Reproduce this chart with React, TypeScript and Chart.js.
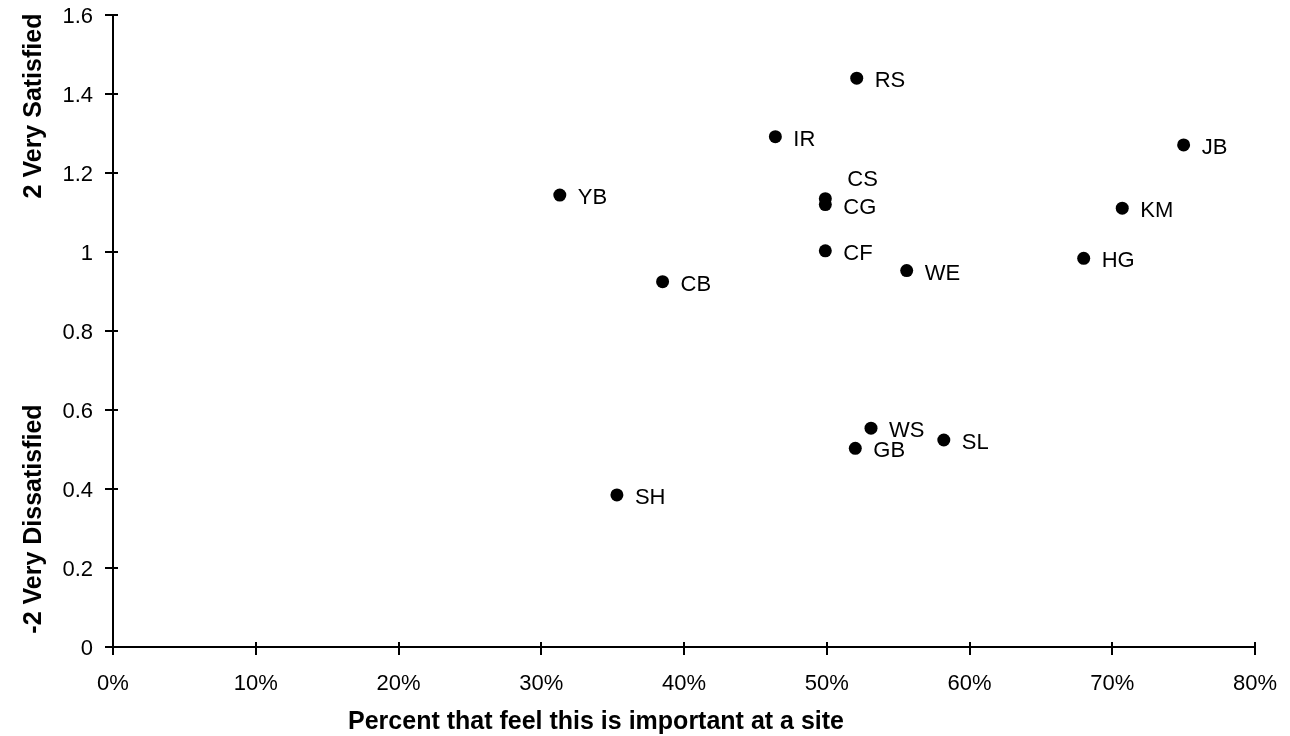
import React, { useEffect, useRef } from "react";
import { Chart, registerables } from "chart.js";

Chart.register(...registerables);

const siteCodes = ["RS", "IR", "JB", "YB", "CS", "CG", "KM", "CF", "HG", "WE", "CB", "WS", "SL", "GB", "SH"];
const importancePct = [52.1, 46.4, 75.0, 31.3, 49.9, 49.9, 70.7, 49.9, 68.0, 55.6, 38.5, 53.1, 58.2, 52.0, 35.3];
const satisfaction = [1.44, 1.292, 1.271, 1.144, 1.135, 1.12, 1.111, 1.003, 0.984, 0.953, 0.925, 0.554, 0.524, 0.503, 0.385];

const xTickValues = [0, 10, 20, 30, 40, 50, 60, 70, 80];
const yTickValues = [0, 0.2, 0.4, 0.6, 0.8, 1, 1.2, 1.4, 1.6];

const xTitle = "Percent that feel this is important at a site";
const yTitleTop = "2 Very Satisfied";
const yTitleBottom = "-2 Very Dissatisfied";

const FONT = "'Liberation Sans', Arial, Helvetica, sans-serif";
const defaultLabelShift = [18, 3];
const labelShift: Record<string, number[]> = { CS: [22, -19] };

export default function App() {
  const ref = useRef<HTMLCanvasElement>(null);

  useEffect(() => {
    const canvas = ref.current;
    if (!canvas) return;

    const extras = {
      id: "extras",
      afterDraw(chart: any) {
        const ctx = chart.ctx as CanvasRenderingContext2D;
        const xs = chart.scales.x;
        const ys = chart.scales.y;
        const area = chart.chartArea;
        ctx.save();
        // inner halves of the crossing tick marks
        ctx.strokeStyle = "#000";
        ctx.lineWidth = 2;
        ctx.beginPath();
        ys.ticks.forEach((t: any) => {
          const py = Math.round(ys.getPixelForValue(t.value));
          ctx.moveTo(area.left, py);
          ctx.lineTo(area.left + 5, py);
        });
        xs.ticks.forEach((t: any) => {
          const px = Math.round(xs.getPixelForValue(t.value));
          ctx.moveTo(px, area.bottom);
          ctx.lineTo(px, area.bottom - 5);
        });
        ctx.stroke();

        // point labels
        ctx.font = `22px ${FONT}`;
        ctx.fillStyle = "#000";
        ctx.textAlign = "left";
        ctx.textBaseline = "middle";
        const meta = chart.getDatasetMeta(0);
        meta.data.forEach((el: any, i: number) => {
          const code = siteCodes[i];
          const [dx, dy] = labelShift[code] || defaultLabelShift;
          ctx.fillText(code, el.x + dx, el.y + dy);
        });

        // axis titles
        ctx.font = `bold 25px ${FONT}`;
        ctx.textAlign = "center";
        ctx.textBaseline = "alphabetic";
        ctx.fillText(xTitle, 596, 729);

        ctx.save();
        ctx.translate(41, 106);
        ctx.rotate(-Math.PI / 2);
        ctx.fillText(yTitleTop, 0, 0);
        ctx.restore();

        ctx.save();
        ctx.translate(41, 519);
        ctx.rotate(-Math.PI / 2);
        ctx.fillText(yTitleBottom, 0, 0);
        ctx.restore();

        ctx.restore();
      },
    };

    const chart = new Chart(canvas, {
      type: "scatter",
      data: {
        datasets: [
          {
            data: importancePct.map((x, i) => ({ x, y: satisfaction[i] })),
            backgroundColor: "#000",
            borderColor: "#000",
            borderWidth: 0,
            pointRadius: 6.5,
            pointHoverRadius: 6.5,
          },
        ],
      },
      options: {
        animation: false,
        responsive: false,
        devicePixelRatio: 1,
        layout: { padding: { top: 15, right: 35, left: 0, bottom: 0 } },
        plugins: { legend: { display: false }, tooltip: { enabled: false } },
        scales: {
          x: {
            type: "linear",
            min: 0,
            max: 80,
            afterBuildTicks: (s: any) => {
              s.ticks = xTickValues.map((v) => ({ value: v }));
            },
            ticks: {
              color: "#000",
              font: { size: 22, family: FONT },
              padding: 16,
              maxRotation: 0,
              autoSkip: false,
              callback: (v: any) => `${v}%`,
            },
            grid: { drawOnChartArea: false, color: "#000", lineWidth: 2, tickLength: 8 },
            border: { color: "#000", width: 2 },
            afterFit: (s: any) => {
              s.height = 89;
              s.paddingLeft = 0;
              s.paddingRight = 0;
            },
          },
          y: {
            min: 0,
            max: 1.6,
            afterBuildTicks: (s: any) => {
              s.ticks = yTickValues.map((v) => ({ value: v }));
            },
            ticks: {
              color: "#000",
              font: { size: 22, family: FONT },
              padding: 12,
              labelOffset: 2,
              autoSkip: false,
              callback: (v: any) => String(Math.round(Number(v) * 10) / 10),
            },
            grid: { drawOnChartArea: false, color: "#000", lineWidth: 2, tickLength: 8 },
            border: { color: "#000", width: 2 },
            afterFit: (s: any) => {
              s.width = 113;
              s.paddingTop = 0;
              s.paddingBottom = 0;
            },
          },
        },
      },
      plugins: [extras],
    });

    return () => chart.destroy();
  }, []);

  return (
    <div style={{ position: "absolute", left: 0, top: 0, width: 1290, height: 736, background: "#fff" }}>
      <canvas ref={ref} width={1290} height={736} style={{ display: "block" }} />
    </div>
  );
}
